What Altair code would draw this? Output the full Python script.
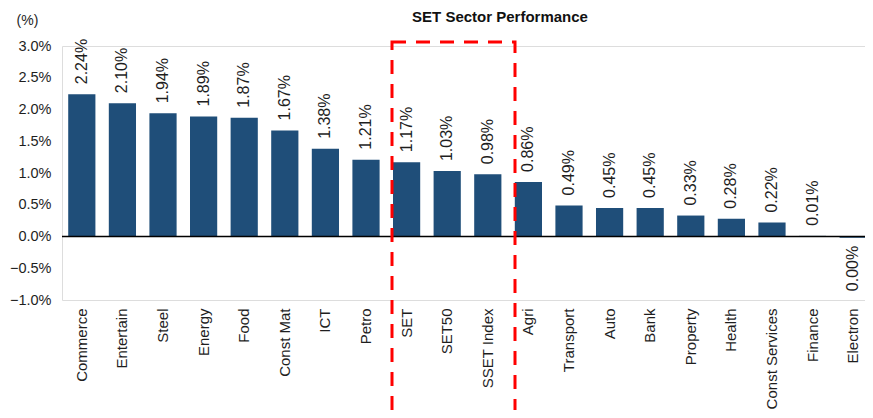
import altair as alt
import pandas as pd

sectors = ["Commerce", "Entertain", "Steel", "Energy", "Food", "Const Mat", "ICT", "Petro",
           "SET", "SET50", "SSET Index", "Agri", "Transport", "Auto", "Bank", "Property",
           "Health", "Const Services", "Finance", "Electron"]
values = [2.24, 2.10, 1.94, 1.89, 1.87, 1.67, 1.38, 1.21,
          1.17, 1.03, 0.98, 0.86, 0.49, 0.45, 0.45, 0.33,
          0.28, 0.22, 0.01, -0.02]
labels = ["2.24%", "2.10%", "1.94%", "1.89%", "1.87%", "1.67%", "1.38%", "1.21%",
          "1.17%", "1.03%", "0.98%", "0.86%", "0.49%", "0.45%", "0.45%", "0.33%",
          "0.28%", "0.22%", "0.01%", "0.00%"]
y_ticks = [-1, -0.5, 0, 0.5, 1, 1.5, 2, 2.5, 3]
title_text = "SET Sector Performance"

df = pd.DataFrame({"sector": sectors, "value": values, "label": labels})

FONT = "Liberation Sans"
TXT = "#1e1e1e"

x_enc = alt.X("sector:N", sort=sectors, title=None,
              scale=alt.Scale(range=[0, 811], paddingInner=0.33, paddingOuter=0.153),
              axis=alt.Axis(labelAngle=270, labelFontSize=15, labelFont=FONT, labelColor=TXT,
                            labelPadding=8, ticks=False, domain=False, labelLimit=200,
                            labelOverlap=False))
y_enc = alt.Y("value:Q", title="(%)",
              scale=alt.Scale(domain=[-1, 3], nice=False, zero=False),
              axis=alt.Axis(values=y_ticks,
                            labelExpr="format(datum.value, '.1f') + '%'",
                            labelFontSize=14.5, labelFont=FONT, labelColor=TXT,
                            labelPadding=11, ticks=False, domain=False, grid=False,
                            labelOverlap=False,
                            titleAngle=0, titleX=-35, titleY=-26, titleAlign="center",
                            titleBaseline="middle", titleFont=FONT, titleFontSize=14,
                            titleFontWeight="normal", titleColor=TXT))

base = alt.Chart(df)

bars = base.mark_bar(color="#1f4e79").encode(x=x_enc, y=y_enc)

pos_labels = base.transform_filter("datum.value >= 0").mark_text(
    angle=270, align="left", baseline="middle", dx=10, fontSize=16, font=FONT, color=TXT
).encode(x=x_enc, y=y_enc, text="label:N")

neg_labels = base.transform_filter("datum.value < 0").mark_text(
    angle=270, align="right", baseline="middle", dx=-8, fontSize=16, font=FONT, color=TXT
).encode(x=x_enc, y=y_enc, text="label:N")

zero = alt.Chart(pd.DataFrame({"value": [0]})).mark_rule(color="black", strokeWidth=1.5).encode(
    y=y_enc)

box = alt.Chart(pd.DataFrame({"a": [0]})).mark_rect(
    fill=None, stroke="#ff0000", strokeWidth=3, strokeDash=[14, 10]
).encode(x=alt.value(330), x2=alt.value(453), y=alt.value(-4), y2=alt.value(369))

title = alt.Chart(pd.DataFrame({"t": [title_text]})).mark_text(
    font=FONT, fontSize=15, fontWeight="bold", color="#111",
    align="center", baseline="middle"
).encode(text="t:N", x=alt.value(438), y=alt.value(-29))

chart = alt.layer(bars, pos_labels, neg_labels, zero, box, title).properties(
    width=803, height=254,
    autosize=alt.AutoSizeParams(type="none"),
    padding={"left": 54, "top": 38, "right": 0, "bottom": 110},
).configure_view(stroke=None).configure(background="white")

chart.save("out.html", embed_options={"renderer": "svg", "actions": False})
